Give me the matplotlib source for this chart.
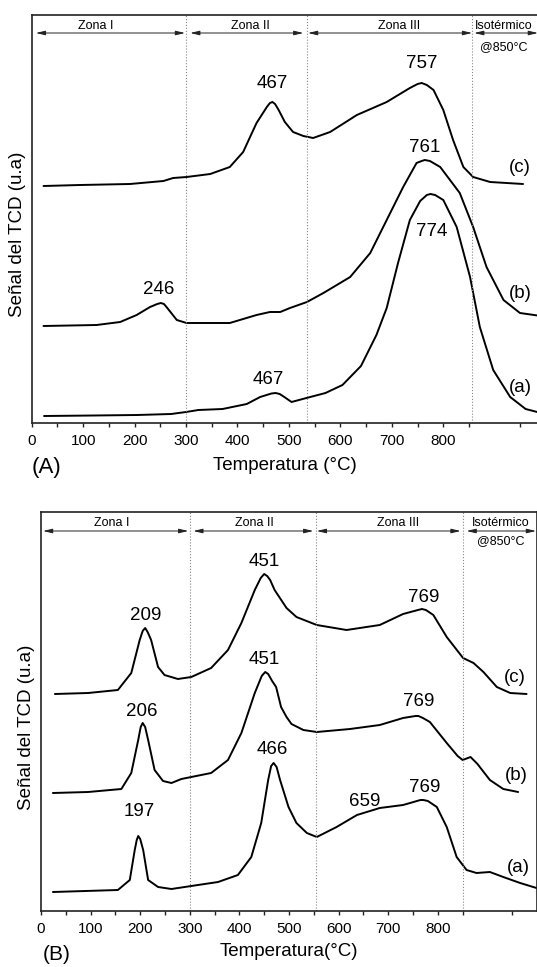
import matplotlib
matplotlib.use('Agg')
import matplotlib.pyplot as plt
from matplotlib.ticker import FixedLocator, NullLocator

plt.rcParams['font.family'] = ['Liberation Sans', 'DejaVu Sans']

W, H = 537, 967

# ---------------- panel (A) ----------------
tA_c = [23, 94, 191, 256, 275, 301, 347, 385, 411, 437, 457, 463, 468, 473, 480, 492, 508, 528,
        547, 580, 632, 690, 735, 750, 758, 768, 781, 800, 819, 839, 858, 891, 955]
sA_c = [237, 238, 239, 242, 245, 246, 249, 256, 271, 300, 316, 320, 321, 319, 313, 301, 291, 287,
        285, 291, 308, 321, 335, 339, 340, 338, 333, 313, 283, 256, 246, 241, 239]

tA_b = [23, 126, 172, 204, 230, 244, 251, 257, 262, 282, 301, 385, 437, 463, 483, 502, 535, 567,
        619, 658, 690, 722, 748, 758, 764, 774, 794, 832, 858, 884, 917, 949, 990]
sA_b = [97, 98, 101, 108, 116, 119, 120, 119, 116, 103, 100, 100, 108, 111, 111, 115, 121, 130,
        146, 170, 203, 236, 260, 262, 263, 262, 256, 230, 196, 156, 123, 110, 107]

tA_a = [24, 120, 205, 271, 300, 324, 371, 418, 444, 466, 474, 482, 491, 505, 534, 571, 604, 640,
        670, 690, 712, 735, 755, 768, 775, 784, 800, 826, 852, 871, 897, 930, 960, 990]
sA_a = [7, 7.5, 8, 9, 11, 13, 14, 19, 26, 29.5, 30, 29, 26, 21, 25, 30, 38, 57,
        88, 115, 160, 203, 222, 228, 229, 228, 223, 196, 146, 96, 53, 26, 14, 10]

peaksA = ['467', '757', '761', '774', '246', '467']
peaksA_t = [468, 758, 764, 777, 246, 460]
peaksA_s = [339, 359, 275, 192, 133, 43]

curvesA = ['(c)', '(b)', '(a)']
curvesA_t = [949, 949, 949]
curvesA_s = [255, 130, 35]

zonesA = ['Zona I', 'Zona II', 'Zona III', 'Isotérmico']
zonesA_txt = [125, 425, 714, 918]
zonesA_from = [8, 308, 537, 860]
zonesA_to = [298, 528, 856, 984]
linesA = [300, 535, 856]

# ---------------- panel (B) ----------------
tB_c = [28, 95, 155, 182, 199, 205, 210, 215, 222, 236, 249, 276, 303, 343, 377, 404, 431, 443,
        450, 456, 462, 471, 495, 515, 556, 616, 683, 730, 760, 768, 776, 791, 818, 851, 872, 892,
        919, 946, 979]
sB_c = [217, 218, 221, 238, 271, 280, 283, 279, 271, 244, 236, 232, 234, 243, 261, 288, 321, 333,
        337, 335, 331, 321, 303, 294, 286, 281, 286, 297, 301, 302, 301, 296, 274, 253, 248, 239,
        224, 218, 217]

tB_b = [24, 95, 162, 182, 196, 201, 205, 210, 216, 229, 246, 263, 283, 303, 343, 377, 404, 431,
        445, 452, 458, 466, 474, 484, 495, 505, 529, 556, 623, 683, 730, 755, 761, 770, 784, 818,
        840, 850, 866, 880, 905, 932, 962]
sB_b = [118, 119, 122, 138, 171, 184, 188, 184, 171, 141, 130, 128, 132, 134, 138, 151, 178, 218,
        235, 239, 237, 230, 224, 204, 194, 187, 181, 179, 182, 186, 193, 195, 195, 193, 189, 168,
        155, 151, 154, 147, 131, 122, 119]

tB_a = [24, 155, 179, 189, 193, 196, 200, 206, 216, 236, 263, 303, 357, 397, 424, 444, 458, 464,
        469, 475, 482, 499, 515, 536, 556, 596, 637, 683, 730, 765, 771, 780, 798, 818, 838, 858,
        878, 905, 932, 966, 999]
sB_a = [19, 21, 31, 61, 71, 75, 72, 61, 31, 24, 22, 25, 29, 36, 54, 88, 131, 145,
        148, 144, 131, 104, 88, 78, 74, 84, 96, 103, 106, 111, 111, 110, 104, 84, 54, 41,
        38, 39, 34, 28, 23]

peaksB = ['209', '451', '769', '451', '206', '769', '466', '659', '769', '197']
peaksB_t = [212, 450, 771, 450, 204, 761, 466, 653, 774, 199]
peaksB_s = [295, 349, 313, 252, 199, 209, 161, 109, 123, 99]

curvesB = ['(c)', '(b)', '(a)']
curvesB_t = [956, 959, 962]
curvesB_s = [233, 136, 43]

zonesB = ['Zona I', 'Zona II', 'Zona III', 'Isotérmico']
zonesB_txt = [143, 430, 720, 927]
zonesB_from = [4, 307, 556, 858]
zonesB_to = [297, 549, 846, 998]
linesB = [300, 554, 851]

major_ticks = [0, 100, 200, 300, 400, 500, 600, 700, 800]
minor_ticks = [50, 150, 250, 350, 450, 550, 650, 750, 850, 950]


def panel(ax, curves_t, curves_s, ymax, peaks, pk_t, pk_s, cl, cl_t, cl_s,
          zones, z_txt, z_from, z_to, vlines, y_arrow, y_ztext, y_iso):
    for t, s in zip(curves_t, curves_s):
        ax.plot(t, s, color='black', lw=1.4, solid_joinstyle='round', solid_capstyle='round')
    for v in vlines:
        ax.axvline(v, color='#888888', ls=':', lw=0.8)
    for lab, t, s in zip(peaks, pk_t, pk_s):
        ax.text(t, s, lab, ha='center', va='center', fontsize=13.5)
    for lab, t, s in zip(cl, cl_t, cl_s):
        ax.text(t, s, lab, ha='center', va='center', fontsize=13.5)
    for lab, xt, x0, x1 in zip(zones, z_txt, z_from, z_to):
        ax.annotate('', xy=(x1, y_arrow), xytext=(x0, y_arrow),
                    arrowprops=dict(arrowstyle='<|-|>,head_length=0.55,head_width=0.13',
                                    lw=0.7, color='#222222', shrinkA=0, shrinkB=0))
        ax.text(xt, y_ztext, lab, ha='center', va='center', fontsize=9)
    ax.text(z_txt[-1], y_iso, '@850°C', ha='center', va='center', fontsize=9)

    ax.set_xlim(0, 1000)
    ax.set_ylim(0, ymax)
    ax.xaxis.set_major_locator(FixedLocator(major_ticks))
    ax.xaxis.set_minor_locator(FixedLocator(minor_ticks))
    ax.yaxis.set_major_locator(NullLocator())
    ax.tick_params(axis='x', which='both', direction='out', length=3, width=1,
                   color='#222222', labelsize=11, pad=5)
    for sp in ax.spines.values():
        sp.set_linewidth(1.2)
        sp.set_color('#222222')


fig = plt.figure(figsize=(W / 100, H / 100), dpi=100)

axA = fig.add_axes([31.7 / W, 1 - 423 / H, 514.5 / W, 408 / H])
panel(axA, [tA_c, tA_b, tA_a], [sA_c, sA_b, sA_a], 408,
      peaksA, peaksA_t, peaksA_s, curvesA, curvesA_t, curvesA_s,
      zonesA, zonesA_txt, zonesA_from, zonesA_to, linesA, 390, 397, 376)

axB = fig.add_axes([41 / W, 1 - 911 / H, 496 / W, 399 / H])
panel(axB, [tB_c, tB_b, tB_a], [sB_c, sB_b, sB_a], 399,
      peaksB, peaksB_t, peaksB_s, curvesB, curvesB_t, curvesB_s,
      zonesB, zonesB_txt, zonesB_from, zonesB_to, linesB, 380, 388, 370)

# axis titles and panel letters
fig.text(18 / W, 1 - 234 / H, 'Señal del TCD (u.a)', rotation=90,
         ha='center', va='center', fontsize=13.5)
fig.text(26.5 / W, 1 - 727 / H, 'Señal del TCD (u.a)', rotation=90,
         ha='center', va='center', fontsize=13.5)
fig.text(285 / W, 1 - 465 / H, 'Temperatura (°C)', ha='center', va='center', fontsize=13.5)
fig.text(288.5 / W, 1 - 951 / H, 'Temperatura(°C)', ha='center', va='center', fontsize=13.5)
fig.text(46 / W, 1 - 467 / H, '(A)', ha='center', va='center', fontsize=16)
fig.text(56.5 / W, 1 - 955 / H, '(B)', ha='center', va='center', fontsize=15)

fig.savefig('out.png', dpi=100)
